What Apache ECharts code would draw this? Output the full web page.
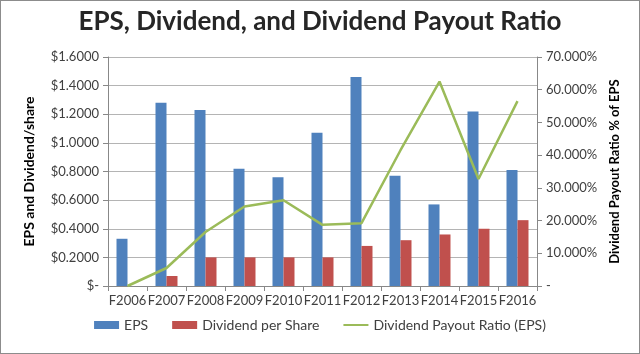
<!DOCTYPE html>
<html><head><meta charset="utf-8">
<script src="https://cdn.jsdelivr.net/npm/echarts@6/dist/echarts.min.js"></script>
<style>html,body{margin:0;padding:0;background:#fff}#c{width:640px;height:354px;box-sizing:border-box;border:1px solid #8c8c8c}</style>
</head><body><div id="c"></div>
<script>
const categories = ['F2006','F2007','F2008','F2009','F2010','F2011','F2012','F2013','F2014','F2015','F2016'];
const eps = [0.33, 1.28, 1.23, 0.82, 0.76, 1.07, 1.46, 0.77, 0.57, 1.22, 0.81];
const dividend = [null, 0.07, 0.20, 0.20, 0.20, 0.20, 0.28, 0.32, 0.36, 0.40, 0.46];
const payoutRatio = [0, 5.5, 16.5, 24.3, 26.2, 18.7, 19.2, 41.5, 62.5, 32.7, 56.5];
const leftTicks = [0, 0.2, 0.4, 0.6, 0.8, 1.0, 1.2, 1.4, 1.6];
const rightTicks = [0, 10, 20, 30, 40, 50, 60, 70];

const F = 'Lato, "DejaVu Sans", sans-serif';
const lineIcon = 'path://M0,0h0.01v0.01h-0.01z M0,2.9h30v2.2h-30z M29.99,7.99h0.01v0.01h-0.01z';
const chart = echarts.init(document.getElementById('c'));
chart.setOption({
  animation: false,
  textStyle: {fontFamily: F},
  title: {text: 'EPS, Dividend, and Dividend Payout Ratio', left: 'center', top: 3,
    textStyle: {fontSize: 26, fontWeight: 'bold', color: '#262626', fontFamily: F}},
  grid: {left: 107, right: 102, top: 56, bottom: 67},
  legend: {bottom: 16, left: 'center', itemGap: 24, itemWidth: 25, itemHeight: 8,
    textStyle: {fontSize: 14, color: '#404040'},
    data: [{name: 'EPS', icon: 'rect'}, {name: 'Dividend per Share', icon: 'rect'}, {name: 'Dividend Payout Ratio (EPS)', icon: lineIcon}]},
  xAxis: {type: 'category', data: categories,
    axisLine: {lineStyle: {color: '#888'}}, axisTick: {show: true, length: 5, lineStyle: {color: '#888'}},
    axisLabel: {fontSize: 13, color: '#404040', margin: 8, interval: 0}},
  yAxis: [
    {type: 'value', min: 0, max: 1.6, interval: 0.2, name: 'EPS and Dividend/share', nameLocation: 'middle', nameGap: 72,
      nameTextStyle: {fontSize: 14, fontWeight: 'bold', color: '#000'},
      axisLine: {show: true, lineStyle: {color: '#888'}}, axisTick: {show: true, length: 5, lineStyle: {color: '#888'}},
      splitLine: {lineStyle: {color: '#b4b4b4'}},
      axisLabel: {fontSize: 13, color: '#404040', margin: 9,
        formatter: v => { const t = leftTicks.find(x => Math.abs(x - v) < 1e-9); return t === 0 ? '$-' : '$' + v.toFixed(4); }}},
    {type: 'value', min: 0, max: 70, interval: 10, name: 'Dividend Payout Ratio % of EPS', nameLocation: 'middle', nameGap: 68,
      nameRotate: 90,
      nameTextStyle: {fontSize: 13, fontWeight: 'bold', color: '#000'},
      axisLine: {show: true, lineStyle: {color: '#888'}}, axisTick: {show: true, length: 5, lineStyle: {color: '#888'}},
      splitLine: {show: false},
      axisLabel: {fontSize: 13, color: '#404040', margin: 9,
        formatter: v => { const t = rightTicks.find(x => Math.abs(x - v) < 1e-9); return t === 0 ? '-' : v.toFixed(3) + '%'; }}}
  ],
  series: [
    {name: 'EPS', type: 'bar', data: eps, barWidth: 11, barGap: '0%', itemStyle: {color: '#4F81BD'}},
    {name: 'Dividend per Share', type: 'bar', data: dividend, barWidth: 11, itemStyle: {color: '#C0504D'}},
    {name: 'Dividend Payout Ratio (EPS)', type: 'line', yAxisIndex: 1, data: payoutRatio, symbol: 'none',
      lineStyle: {width: 2.5, color: '#9BBB59'}, itemStyle: {color: '#9BBB59'}}
  ]
});
</script></body></html>
